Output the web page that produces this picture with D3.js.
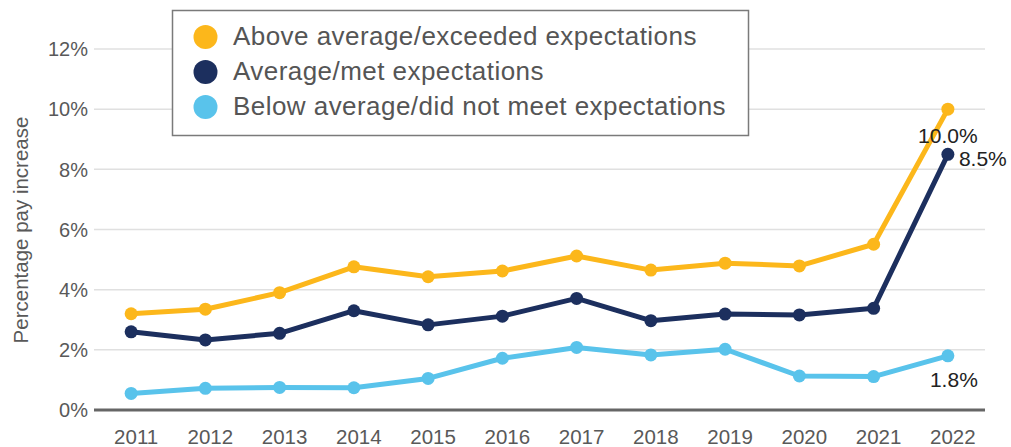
<!DOCTYPE html>
<html>
<head>
<meta charset="utf-8">
<script src="https://cdn.jsdelivr.net/npm/d3@7"></script>
<style>
  html, body { margin: 0; padding: 0; background: #fff; }
  svg { display: block; font-family: "Liberation Sans", Arial, Helvetica, sans-serif; }
</style>
</head>
<body>
<div id="chart"></div>
<script>
  const years = ["2011", "2012", "2013", "2014", "2015", "2016", "2017", "2018", "2019", "2020", "2021", "2022"];
  const aboveAverage = [3.2, 3.35, 3.9, 4.76, 4.43, 4.62, 5.12, 4.65, 4.88, 4.79, 5.51, 10.0];
  const average = [2.6, 2.33, 2.55, 3.3, 2.83, 3.12, 3.71, 2.97, 3.19, 3.16, 3.38, 8.5];
  const belowAverage = [0.55, 0.72, 0.75, 0.74, 1.05, 1.72, 2.08, 1.83, 2.02, 1.13, 1.11, 1.8];
  const yTicks = [0, 2, 4, 6, 8, 10, 12];
  const seriesNames = [
    "Above average/exceeded expectations",
    "Average/met expectations",
    "Below average/did not meet expectations"
  ];

  const width = 1011;
  const height = 447;
  const colors = ["#fcb71b", "#1c2f5e", "#59c3eb"];

  const series = [aboveAverage, average, belowAverage].map((values, i) => ({
    name: seriesNames[i],
    color: colors[i],
    values: values.map((v, j) => ({ year: years[j], value: v }))
  }));

  const svg = d3.select("#chart")
    .append("svg")
    .attr("width", width)
    .attr("height", height);

  const x = d3.scalePoint().domain(years).range([94, 985]).padding(0.5);
  const y = d3.scaleLinear().domain([0, 12]).range([410, 49]);

  // grid lines
  svg.append("g")
    .selectAll("line")
    .data(yTicks.filter(d => d > 0))
    .join("line")
    .attr("x1", 94)
    .attr("x2", 985)
    .attr("y1", d => y(d))
    .attr("y2", d => y(d))
    .attr("stroke", "#e0e0e0")
    .attr("stroke-width", 1.5);

  // y tick labels
  svg.append("g")
    .selectAll("text")
    .data(yTicks)
    .join("text")
    .attr("x", 88)
    .attr("y", d => y(d))
    .attr("dy", "0.36em")
    .attr("text-anchor", "end")
    .attr("font-size", 20)
    .attr("fill", "#595959")
    .text(d => d + "%");

  // x axis line + labels
  svg.append("line")
    .attr("x1", 94)
    .attr("x2", 985)
    .attr("y1", y(0))
    .attr("y2", y(0))
    .attr("stroke", "#666")
    .attr("stroke-width", 3);

  svg.append("g")
    .selectAll("text")
    .data(years)
    .join("text")
    .attr("x", d => x(d) + 5)
    .attr("y", 444)
    .attr("text-anchor", "middle")
    .attr("font-size", 20.5)
    .attr("fill", "#595959")
    .text(d => d);

  svg.append("text")
    .attr("transform", "translate(28,230) rotate(-90)")
    .attr("text-anchor", "middle")
    .attr("font-size", 20.5)
    .attr("fill", "#595959")
    .text("Percentage pay increase");

  // lines and dots
  const line = d3.line()
    .x(d => x(d.year))
    .y(d => y(d.value));

  const groups = svg.append("g")
    .selectAll("g")
    .data(series)
    .join("g");

  groups.append("path")
    .attr("d", d => line(d.values))
    .attr("fill", "none")
    .attr("stroke", d => d.color)
    .attr("stroke-width", 5)
    .attr("stroke-linejoin", "round");

  groups.selectAll("circle")
    .data(d => d.values.map(v => ({ ...v, color: d.color })))
    .join("circle")
    .attr("cx", d => x(d.year))
    .attr("cy", d => y(d.value))
    .attr("r", 6.5)
    .attr("fill", d => d.color);

  // end labels for 2022
  const last = years.length - 1;
  const fmt = d => d3.format(".1f")(d) + "%";
  const labelOffsets = [
    { dx: 0, dy: 34, anchor: "middle" },
    { dx: 11, dy: 12, anchor: "start" },
    { dx: 6, dy: 31, anchor: "middle" }
  ];
  series.forEach((s, i) => {
    const p = s.values[last];
    svg.append("text")
      .attr("x", x(p.year) + labelOffsets[i].dx)
      .attr("y", y(p.value) + labelOffsets[i].dy)
      .attr("text-anchor", labelOffsets[i].anchor)
      .attr("font-size", 21)
      .attr("fill", "#222")
      .text(fmt(p.value));
  });

  // legend
  const legend = svg.append("g");
  legend.append("rect")
    .attr("x", 172.5)
    .attr("y", 10.5)
    .attr("width", 576)
    .attr("height", 125)
    .attr("fill", "#fff")
    .attr("stroke", "#7a7a7a")
    .attr("stroke-width", 1.5);

  const items = legend.selectAll("g")
    .data(series)
    .join("g")
    .attr("transform", (d, i) => `translate(0,${37 + i * 35})`);

  items.append("circle")
    .attr("cx", 205.5)
    .attr("cy", 0)
    .attr("r", 12)
    .attr("fill", d => d.color);

  items.append("text")
    .attr("x", 233)
    .attr("y", 8)
    .attr("font-size", 26)
    .attr("letter-spacing", 0.45)
    .attr("fill", "#555")
    .text(d => d.name);
</script>
</body>
</html>
